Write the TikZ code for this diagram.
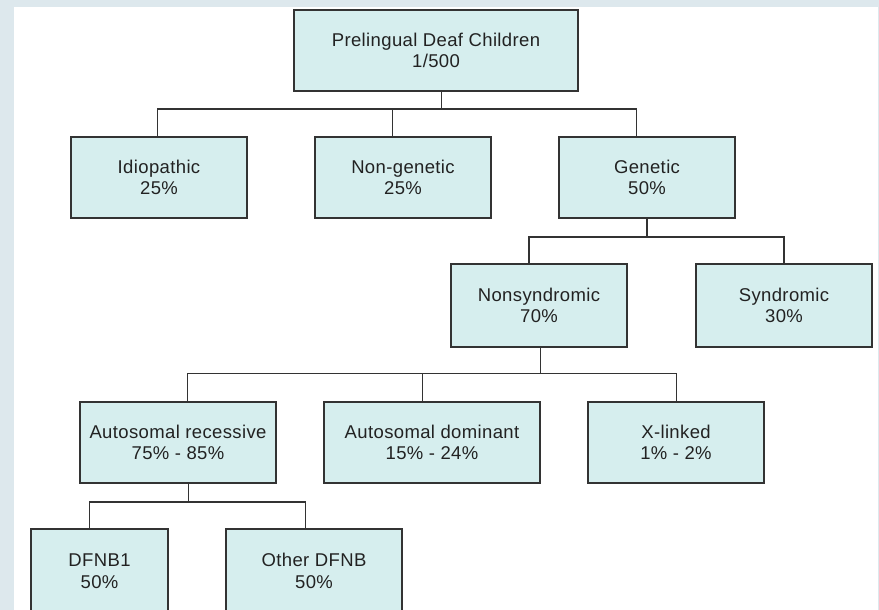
\documentclass[tikz,border=0pt]{standalone}
\usepackage{fontspec}
\setmainfont{Liberation Sans}[LetterSpace=2]
\definecolor{framebg}{HTML}{DDE8ED}
\definecolor{boxfill}{HTML}{D6EEEE}
\definecolor{edgec}{HTML}{333333}
\definecolor{textc}{HTML}{222222}
\tikzset{
  cbox/.style={draw=edgec, line width=1.4pt, fill=boxfill, rectangle, inner sep=0pt,
    align=center, text=textc, font=\fontsize{18.5}{21.5}\selectfont, minimum height=81pt},
  conn/.style={draw=edgec, line width=1.3pt}
}
\begin{document}
\begin{tikzpicture}[x=1pt,y=-1pt]
\useasboundingbox (0,0) rectangle (879,610);
\fill[framebg] (0,0) rectangle (879,610);
\fill[white] (14,7) rectangle (878,610);
\begin{scope}
\clip (0,0) rectangle (879,610);
\node[cbox, minimum width=284pt] (top) at (436,50.5) {Prelingual Deaf Children\\1/500};
\node[cbox, minimum width=176pt] (idio) at (159,177.5) {Idiopathic\\25\%};
\node[cbox, minimum width=176pt] (nongen) at (403,177.5) {Non-genetic\\25\%};
\node[cbox, minimum width=176pt] (gen) at (647,177.5) {Genetic\\50\%};
\node[cbox, minimum width=176pt, minimum height=83pt] (nonsyn) at (539,305.5) {Nonsyndromic\\70\%};
\node[cbox, minimum width=176pt, minimum height=83pt] (syn) at (784,305.5) {Syndromic\\30\%};
\node[cbox, minimum width=196pt] (ar) at (178,442.5) {Autosomal recessive\\75\% - 85\%};
\node[cbox, minimum width=216pt] (ad) at (432,442.5) {Autosomal dominant\\15\% - 24\%};
\node[cbox, minimum width=176pt] (xl) at (676,442.5) {X-linked\\1\% - 2\%};
\node[cbox, minimum width=137pt, minimum height=84pt] (dfnb1) at (99.5,571) {DFNB1\\50\%};
\node[cbox, minimum width=176pt, minimum height=84pt] (other) at (314,571) {Other DFNB\\50\%};
\end{scope}
% level 1
\coordinate (j1) at (441.7,109);
\draw[conn] ([xshift=5.7pt]top.south) -- (j1);
\draw[conn] ([xshift=-1.3pt]idio.north) |- (j1) -| ([xshift=-10.3pt]gen.north);
\draw[conn] ([xshift=-10.3pt]nongen.north) -- ([xshift=-10.3pt]nongen.north |- j1);
% level 2
\coordinate (j2) at (647,237);
\draw[conn] (gen.south) -- (j2);
\draw[conn] ([xshift=-10pt]nonsyn.north) |- (j2) -| (syn.north);
% level 3
\coordinate (j3) at (540.5,373.3);
\draw[conn] ([xshift=1.5pt]nonsyn.south) -- (j3);
\draw[conn] ([xshift=9.7pt]ar.north) |- (j3) -| ([xshift=0.7pt]xl.north);
\draw[conn] ([xshift=-9.3pt]ad.north) -- ([xshift=-9.3pt]ad.north |- j3);
% level 4
\coordinate (j4) at (188.3,502);
\draw[conn] ([xshift=10.3pt]ar.south) -- (j4);
\draw[conn] ([xshift=-10.2pt]dfnb1.north) |- (j4) -| ([xshift=-8.5pt]other.north);
\end{tikzpicture}
\end{document}
